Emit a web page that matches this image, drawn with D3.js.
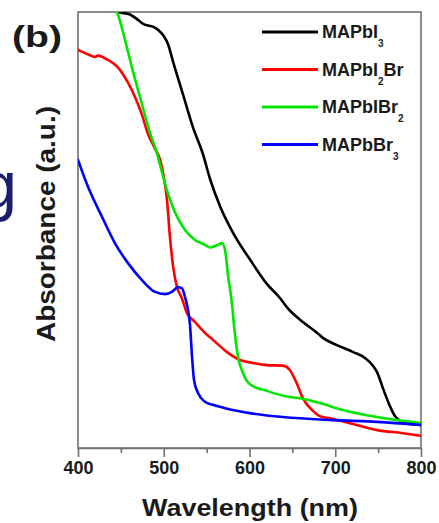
<!DOCTYPE html>
<html>
<head>
<meta charset="utf-8">
<script src="https://cdn.jsdelivr.net/npm/d3@7"></script>
<style>
  html, body { margin: 0; padding: 0; background: #fff; }
  svg { display: block; }
  text { font-family: "Liberation Sans", Arial, sans-serif; }
</style>
</head>
<body>
<svg id="chart" width="439" height="523"></svg>
<script>
// ---- data (wavelength nm, absorbance a.u.) ----
const seriesNames = ["MAPbI3", "MAPbI2Br", "MAPbIBr2", "MAPbBr3"];
const seriesColors = ["#000000", "#ff0000", "#00e600", "#0000ff"];

const mapbi3 = [
  [440, 1.02], [447, 1.0], [460, 0.995], [470, 0.982], [476, 0.973], [482, 0.969],
  [488, 0.966], [494, 0.958], [500, 0.945], [505, 0.926], [511, 0.885], [522, 0.814],
  [534, 0.736], [546, 0.672], [554, 0.617], [566, 0.553], [581, 0.493], [601, 0.431],
  [620, 0.377], [636, 0.343], [644, 0.322], [659, 0.294], [679, 0.264], [686, 0.252],
  [702, 0.236], [721, 0.220], [735, 0.206], [743, 0.191], [749, 0.173], [756, 0.135],
  [764, 0.095], [770, 0.072], [776, 0.062], [787, 0.055], [800, 0.053]
];
const mapbi2br = [
  [400, 0.913], [414, 0.901], [420, 0.897], [423, 0.900], [435, 0.890], [447, 0.872],
  [458, 0.839], [466.5, 0.805], [474.6, 0.764], [481.6, 0.720], [490, 0.686], [496, 0.660],
  [500, 0.622], [504, 0.565], [507, 0.489], [511, 0.415], [515.5, 0.369], [521, 0.344],
  [527, 0.310], [536.4, 0.289], [548, 0.264], [557.4, 0.248], [573.8, 0.220], [589, 0.202],
  [604, 0.195], [620, 0.190], [639, 0.189], [647, 0.179], [655, 0.149], [662, 0.115],
  [674, 0.085], [682, 0.073], [694, 0.068], [717, 0.057], [749, 0.041], [779, 0.034], [800, 0.028]
];
const mapbibr2 = [
  [443, 1.01], [445.5, 1.0], [454.8, 0.936], [463, 0.872], [472.3, 0.805], [484, 0.722],
  [492, 0.677], [495.6, 0.650], [504, 0.589], [513, 0.541], [524.8, 0.500], [536.4, 0.477],
  [548, 0.466], [554, 0.460], [562, 0.465], [568, 0.470], [571.4, 0.455], [575, 0.395],
  [579.6, 0.330], [582, 0.280], [586.6, 0.209], [592.4, 0.172], [600.6, 0.146], [620.4, 0.131],
  [643.7, 0.118], [659, 0.114], [682, 0.103], [709, 0.087], [748.7, 0.071], [772, 0.064], [800, 0.057]
];
const mapbbr3 = [
  [400, 0.661], [411.7, 0.599], [428, 0.530], [443, 0.470], [458.3, 0.424], [474.6, 0.385],
  [489.8, 0.358], [501.5, 0.353], [509.6, 0.358], [516.6, 0.369], [521.3, 0.366], [524.8, 0.346],
  [530.6, 0.282], [533, 0.209], [535.3, 0.156], [540, 0.126], [548, 0.106], [557.4, 0.099],
  [573.8, 0.090], [600.6, 0.080], [639, 0.071], [697.4, 0.064], [748.7, 0.060], [800, 0.053]
];
const seriesData = [mapbi3, mapbi2br, mapbibr2, mapbbr3];

const xMajorTicks = [400, 500, 600, 700, 800];
const xMinorTicks = [450, 550, 650, 750];

// ---- layout ----
const svg = d3.select("#chart");
const pLeft = 78, pRight = 421, pTop = 12, pBottom = 448;
const x = d3.scaleLinear().domain([400, 800]).range([pLeft, pRight]);
const y = d3.scaleLinear().domain([0, 1]).range([pBottom, pTop]);

// stray cropped letter at far left (cropped in the source figure too)
svg.append("text").attr("x", 17).attr("y", 208)
  .attr("text-anchor", "end")
  .attr("font-size", 66)
  .attr("fill", "#1c1c70")
  .text("g");

// clip
svg.append("defs").append("clipPath").attr("id", "plotclip")
  .append("rect").attr("x", pLeft).attr("y", pTop).attr("width", pRight - pLeft).attr("height", pBottom - pTop);

// frame
const frameColor = "#707070";
svg.append("rect").attr("x", pLeft).attr("y", pTop).attr("width", pRight - pLeft).attr("height", pBottom - pTop)
  .attr("fill", "none").attr("stroke", frameColor).attr("stroke-width", 1.6);

// bottom axis
const xAxis = d3.axisBottom(x).tickValues(xMajorTicks).tickSize(9).tickSizeOuter(0).tickPadding(4)
  .tickFormat(d3.format("d"));
const gx = svg.append("g").attr("transform", `translate(0,${pBottom})`).call(xAxis);
gx.select(".domain").attr("stroke", frameColor).attr("stroke-width", 1.6);
gx.selectAll(".tick line").attr("stroke", frameColor).attr("stroke-width", 1.6);
gx.selectAll(".tick text").attr("font-size", 18).attr("font-weight", "bold").attr("fill", "#1a1a1a")
  .style("font-family", "'Liberation Sans', Arial, sans-serif");
const gxm = svg.append("g").attr("transform", `translate(0,${pBottom})`)
  .call(d3.axisBottom(x).tickValues(xMinorTicks).tickSize(5).tickFormat(""));
gxm.select(".domain").remove();
gxm.selectAll(".tick line").attr("stroke", frameColor).attr("stroke-width", 1.6);

// curves
const line = d3.line().x(d => x(d[0])).y(d => y(d[1])).curve(d3.curveMonotoneX);
const plot = svg.append("g").attr("clip-path", "url(#plotclip)");
seriesData.forEach((s, i) => {
  plot.append("path").datum(s).attr("d", line)
    .attr("fill", "none").attr("stroke", seriesColors[i]).attr("stroke-width", 2.6)
    .attr("stroke-linejoin", "round").attr("stroke-linecap", "round");
});

// legend
const legendParts = [
  [["MAPbI", 0], ["3", 1]],
  [["MAPbI", 0], ["2", 1], ["Br", 0]],
  [["MAPbIBr", 0], ["2", 1]],
  [["MAPbBr", 0], ["3", 1]]
];
const lg = svg.append("g");
seriesNames.forEach((name, i) => {
  const yy = 38 + i * 37.5;
  lg.append("line").attr("x1", 262).attr("x2", 318).attr("y1", yy - 6).attr("y2", yy - 6)
    .attr("stroke", seriesColors[i]).attr("stroke-width", 3);
  const t = lg.append("text").attr("x", 322).attr("y", yy)
    .attr("font-size", 18).attr("font-weight", "bold").attr("fill", "#1a1a1a");
  let sub = false;
  legendParts[i].forEach(p => {
    const ts = t.append("tspan").text(p[0]);
    if (p[1] === 1 && !sub) { ts.attr("font-size", 10).attr("dy", 9).attr("dx", 0); sub = true; }
    else if (p[1] === 0 && sub) { ts.attr("dy", -9).attr("dx", 0); sub = false; }
  });
});

// panel label
svg.append("text").attr("x", 12).attr("y", 47)
  .attr("font-size", 30).attr("font-weight", "bold").attr("fill", "#1a1a1a")
  .attr("textLength", 50).attr("lengthAdjust", "spacingAndGlyphs")
  .text("(b)");

// axis titles
svg.append("text").attr("x", 250).attr("y", 516).attr("text-anchor", "middle")
  .attr("font-size", 23).attr("font-weight", "bold").attr("fill", "#1a1a1a")
  .attr("textLength", 216).attr("lengthAdjust", "spacingAndGlyphs")
  .text("Wavelength (nm)");
svg.append("text").attr("transform", "translate(55,224) rotate(-90)").attr("text-anchor", "middle")
  .attr("font-size", 25).attr("font-weight", "bold").attr("fill", "#1a1a1a")
  .attr("textLength", 236).attr("lengthAdjust", "spacingAndGlyphs")
  .text("Absorbance (a.u.)");
</script>
</body>
</html>
